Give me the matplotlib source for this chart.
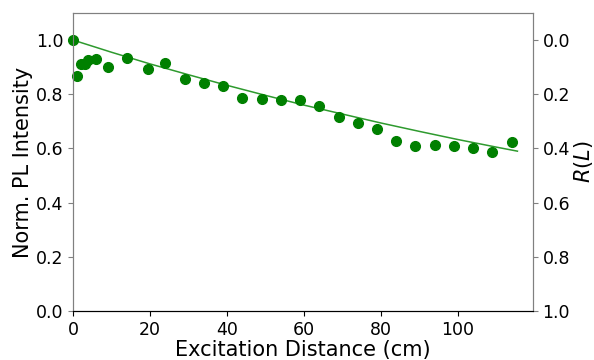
import matplotlib.pyplot as plt
import numpy as np

# donnees
dist = [0, 1, 2, 3, 4, 6, 9, 14, 19.5, 24, 29, 34, 39, 44, 49, 54, 59, 64,
        69, 74, 79, 84, 89, 94, 99, 104, 109, 114]
pl = [1.0, 0.866, 0.91, 0.912, 0.926, 0.93, 0.90, 0.932, 0.893, 0.917, 0.856,
      0.84, 0.83, 0.785, 0.783, 0.777, 0.779, 0.757, 0.717, 0.693, 0.670,
      0.627, 0.609, 0.611, 0.609, 0.601, 0.588, 0.623]

# courbe d'ajustement
fit_x = [0, 10, 20, 30, 40, 50, 60, 70, 80, 90, 100, 110, 115.5]
fit_y = [1.0, 0.955, 0.912, 0.872, 0.833, 0.796, 0.760, 0.727, 0.694,
         0.663, 0.633, 0.605, 0.590]

plt.rcParams['font.family'] = 'DejaVu Sans'
fig = plt.figure(figsize=(5.94, 3.6), dpi=100)
ax = fig.add_axes([0.123, 0.136, 0.774, 0.828])

ax.plot(fit_x, fit_y, '-', color='#2e9a2e', lw=1.1)
ax.plot(dist, pl, 'o', color='green', ms=7, clip_on=False, zorder=3)

ax.set_xlim(0, 119.5)
ax.set_ylim(0, 1.1)
ax.set_xticks([0, 20, 40, 60, 80, 100])
ax.set_yticks([0, 0.2, 0.4, 0.6, 0.8, 1.0])
ax.set_xlabel('Excitation Distance (cm)', fontsize=15, labelpad=1)
ax.set_ylabel('Norm. PL Intensity', fontsize=15, labelpad=2)
ax.tick_params(labelsize=12.5)

ax2 = ax.twinx()
ax2.set_ylim(1.0, -0.1)
ax2.set_yticks([0, 0.2, 0.4, 0.6, 0.8, 1.0])
ax2.set_ylabel('$R(L)$', fontsize=15, labelpad=1)
ax2.tick_params(labelsize=12.5)

for a in (ax, ax2):
    for s in ('left', 'right', 'top'):
        a.spines[s].set_color('gray')
    a.spines['bottom'].set_color('black')
ax.tick_params(axis='y', color='gray')
ax2.tick_params(axis='y', color='gray')

fig.savefig('out.png', dpi=100)
